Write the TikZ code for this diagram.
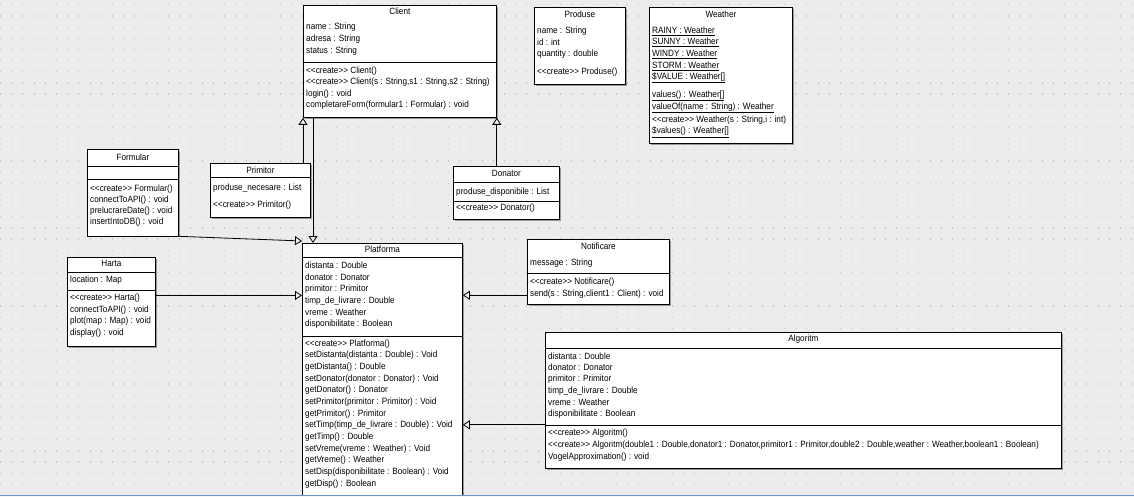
\documentclass[tikz,border=0pt]{standalone}
\usepackage{fontspec}
\setmainfont[FakeStretch=0.9]{Liberation Sans}
\usetikzlibrary{arrows.meta, shadows}
\definecolor{canvas}{HTML}{ECECEC}
\definecolor{griddot}{HTML}{C4C4C4}
\definecolor{barline}{HTML}{6F90C8}

\begin{document}
\begin{tikzpicture}[x=1pt, y=-1pt,
    classbox/.style={draw, fill=white, line width=0.8pt, inner sep=0pt, anchor=north west,
      drop shadow={shadow xshift=1.5pt, shadow yshift=-1.5pt, fill=black!40, opacity=1}},
    member/.style={anchor=west, inner sep=0pt, font=\fontsize{9.1}{10}\selectfont},
    classname/.style={member, anchor=center},
    divider/.style={line width=0.8pt},
    gen/.style={line width=0.8pt, -{Triangle[open, width=9pt, length=7pt]}}]
    \def\cre{<{}<create>{}> }
    \def\gap{11.7}
    \useasboundingbox (0,0) rectangle (1134,497);
    \fill[canvas] (0,0) rectangle (1134,497);
    \foreach \x in {0.5,11.7,...,1134}
        \draw[griddot, line width=1pt, dash pattern=on 1.2pt off 9.95pt] (\x,4.3) -- (\x,494);
    % Client
    \node[classbox, minimum width=193, minimum height=112] (client) at (303,5) {};
    \node[classname] (client-t) at (client.north |- 0,11) {Client};
    \foreach \mem [count=\i from 0] in {name : String, adresa : String, status : String}
        \node[member] (client-a\i) at (306, 27.5+\gap*\i) {\mem};
    \draw[divider] (client.west |- 0,62) -- (client.east |- 0,62);
    \foreach \mem [count=\i from 0] in {{\cre Client()}, {\cre Client(s : String,s1 : String,s2 : String)},
        {login() : void}, {completareForm(formular1 : Formular) : void}}
        \node[member] (client-m\i) at (306, 71+11.4*\i) {\mem};
    % Produse
    \node[classbox, minimum width=91, minimum height=77] (produse) at (534,7) {};
    \node[classname] (produse-t) at (produse.north |- 0,14) {Produse};
    \foreach \mem [count=\i from 0] in {name : String, id : int, quantity : double}
        \node[member] (produse-a\i) at (537, 31+\gap*\i) {\mem};
    \node[member] (produse-m0) at (537,72) {\cre Produse()};
    % Weather
    \node[classbox, minimum width=143, minimum height=136] (weather) at (649,7) {};
    \node[classname] (weather-t) at (weather.north |- 0,14) {Weather};
    \foreach \mem [count=\i from 0] in {{\underline{RAINY : Weather}}, {\underline{SUNNY : Weather}},
        {\underline{WINDY : Weather}}, {\underline{STORM : Weather}}, {\underline{\$VALUE : Weather[]}}}
        \node[member] (weather-a\i) at (652, 31+\gap*\i) {\mem};
    \foreach \mem [count=\i from 0] in {{\underline{values() : Weather[]}}, {\underline{valueOf(name : String) : Weather}},
        {\cre Weather(s : String,i : int)}, {\underline{\$values() : Weather[]}}}
        \node[member] (weather-m\i) at (652, 96+12*\i) {\mem};
    % Formular
    \node[classbox, minimum width=91, minimum height=86] (formular) at (87,149.5) {};
    \node[classname] (formular-t) at (formular.north |- 0,157) {Formular};
    \draw[divider] (formular.west |- 0,166.7) -- (formular.east |- 0,166.7);
    \draw[divider] (formular.west |- 0,179) -- (formular.east |- 0,179);
    \foreach \mem [count=\i from 0] in {{\cre Formular()}, {connectToAPI() : void},
        {prelucrareDate() : void}, {insertIntoDB() : void}}
        \node[member] (formular-m\i) at (90, 189.5+11*\i) {\mem};
    % Primitor
    \node[classbox, minimum width=100, minimum height=54] (primitor) at (210,163) {};
    \node[classname] (primitor-t) at (primitor.north |- 0,170) {Primitor};
    \draw[divider] (primitor.west |- 0,177.7) -- (primitor.east |- 0,177.7);
    \node[member] (primitor-a0) at (213,188.3) {produse\_necesare : List};
    \node[member] (primitor-m0) at (213,205) {\cre Primitor()};
    % Donator
    \node[classbox, minimum width=106, minimum height=53] (donator) at (453,166) {};
    \node[classname] (donator-t) at (donator.north |- 0,173) {Donator};
    \draw[divider] (donator.west |- 0,182) -- (donator.east |- 0,182);
    \draw[divider] (donator.west |- 0,201) -- (donator.east |- 0,201);
    \node[member] (donator-a0) at (456,191.7) {produse\_disponibile : List};
    \node[member] (donator-m0) at (456,208.3) {\cre Donator()};
    % Notificare
    \node[classbox, minimum width=142, minimum height=65] (notificare) at (527,239) {};
    \node[classname] (notificare-t) at (notificare.north |- 0,246.7) {Notificare};
    \node[member] (notificare-a0) at (530,263.3) {message : String};
    \draw[divider] (notificare.west |- 0,273) -- (notificare.east |- 0,273);
    \node[member] (notificare-m0) at (530,281.7) {\cre Notificare()};
    \node[member] (notificare-m1) at (530,294) {send(s : String,client1 : Client) : void};
    % Harta
    \node[classbox, minimum width=88, minimum height=89] (harta) at (67,257) {};
    \node[classname] (harta-t) at (harta.north |- 0,263.5) {Harta};
    \draw[divider] (harta.west |- 0,272) -- (harta.east |- 0,272);
    \node[member] (harta-a0) at (70,280) {location : Map};
    \draw[divider] (harta.west |- 0,290) -- (harta.east |- 0,290);
    \foreach \mem [count=\i from 0] in {{\cre Harta()}, {connectToAPI() : void},
        {plot(map : Map) : void}, {display() : void}}
        \node[member] (harta-m\i) at (70, 298.3+11.5*\i) {\mem};
    % Platforma
    \node[classbox, minimum width=160, minimum height=260] (platforma) at (302,243) {};
    \node[classname] (platforma-t) at (platforma.north |- 0,249.5) {Platforma};
    \draw[divider] (platforma.west |- 0,257) -- (platforma.east |- 0,257);
    \foreach \mem [count=\i from 0] in {distanta : Double, donator : Donator, primitor : Primitor,
        timp\_de\_livrare : Double, vreme : Weather, disponibilitate : Boolean}
        \node[member] (platforma-a\i) at (305, 265.7+\gap*\i) {\mem};
    \draw[divider] (platforma.west |- 0,336) -- (platforma.east |- 0,336);
    \foreach \mem [count=\i from 0] in {{\cre Platforma()}, {setDistanta(distanta : Double) : Void},
        {getDistanta() : Double}, {setDonator(donator : Donator) : Void}, {getDonator() : Donator},
        {setPrimitor(primitor : Primitor) : Void}, {getPrimitor() : Primitor},
        {setTimp(timp\_de\_livrare : Double) : Void}, {getTimp() : Double},
        {setVreme(vreme : Weather) : Void}, {getVreme() : Weather},
        {setDisp(disponibilitate : Boolean) : Void}, {getDisp() : Boolean}}
        \node[member] (platforma-m\i) at (305, 343.7+11.68*\i) {\mem};
    % Algoritm
    \node[classbox, minimum width=516, minimum height=136] (algoritm) at (545,332) {};
    \node[classname] (algoritm-t) at (algoritm.north |- 0,339.5) {Algoritm};
    \draw[divider] (algoritm.west |- 0,348) -- (algoritm.east |- 0,348);
    \foreach \mem [count=\i from 0] in {distanta : Double, donator : Donator, primitor : Primitor,
        timp\_de\_livrare : Double, vreme : Weather, disponibilitate : Boolean}
        \node[member] (algoritm-a\i) at (548, 356+11.6*\i) {\mem};
    \draw[divider] (algoritm.west |- 0,425) -- (algoritm.east |- 0,425);
    \foreach \mem [count=\i from 0] in {{\cre Algoritm()},
        {\cre Algoritm(double1 : Double,donator1 : Donator,primitor1 : Primitor,double2 : Double,weather : Weather,boolean1 : Boolean)},
        {VogelApproximation() : void}}
        \node[member] (algoritm-m\i) at (548, 433.3+11.7*\i) {\mem};
    % generalizations
    \coordinate (client-foot) at ([xshift=10pt]client.south west);
    \coordinate (harta-link) at ([yshift=6.5pt]harta.east);
    \coordinate (notificare-link) at ([yshift=9.5pt]notificare.south west);
    \coordinate (algoritm-link) at ([yshift=44pt]algoritm.south west);
    \draw[gen] (primitor.north -| client.south west) -- (client.south west);
    \draw[gen] (donator.north -| client.south east) -- (client.south east);
    \draw[gen] (client-foot) -- (client-foot |- platforma.north);
    \draw[gen] (formular.south east) -- ([yshift=2pt]platforma.north west);
    \draw[gen] (harta-link) -- (harta-link -| platforma.west);
    \draw[gen] (notificare-link) -- (notificare-link -| platforma.east);
    \draw[gen] (algoritm-link) -- (algoritm-link -| platforma.east);
    % window edge
    \fill[canvas!40!white] (0,495.5) rectangle (1134,497);
    \draw[barline, line width=1pt] (0,495.2) -- (1134,495.2);
\end{tikzpicture}
\end{document}
